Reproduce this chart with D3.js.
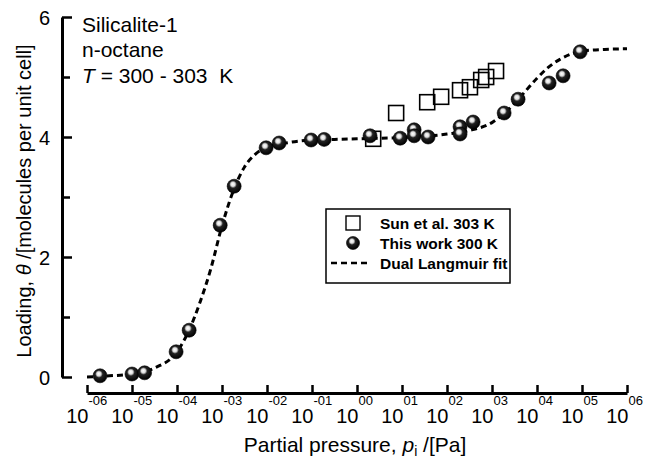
<!DOCTYPE html>
<html>
<head>
<meta charset="utf-8">
<script src="https://cdn.jsdelivr.net/npm/d3@7"></script>
<style>
  body { margin: 0; background: #fff; }
  svg { display: block; font-family: "Liberation Sans", Arial, Helvetica, sans-serif; }
</style>
</head>
<body>
<svg id="chart" width="647" height="459"></svg>
<script>
// Sun et al. 303 K (log10 of pressure in Pa, loading)
var sunLogP = [0.36, 0.87, 1.56, 1.87, 2.29, 2.51, 2.76, 2.87, 3.09];
var sunLoad = [3.97, 4.40, 4.58, 4.67, 4.78, 4.83, 4.95, 5.00, 5.10];

// This work 300 K
var thisLogP = [-5.71, -5.0, -4.72, -4.02, -3.73, -3.04, -2.73, -2.02, -1.73, -1.02, -0.73,
                0.29, 0.96, 1.27, 1.27, 1.58, 2.29, 2.29, 2.58, 3.27, 3.58, 4.27, 4.58, 4.96];
var thisLoad = [0.02, 0.05, 0.07, 0.42, 0.78, 2.53, 3.18, 3.82, 3.90, 3.95, 3.96,
                4.02, 3.98, 4.12, 4.02, 4.00, 4.17, 4.05, 4.25, 4.40, 4.63, 4.90, 5.02, 5.42];

// Dual Langmuir fit
var fitLogP = [-6, -5.5, -5, -4.5, -4, -3.75, -3.5, -3.25, -3, -2.75, -2.5, -2.25, -2, -1.5, -1,
               -0.5, 0, 0.5, 1, 1.5, 2, 2.5, 3, 3.25, 3.5, 3.75, 4, 4.25, 4.5, 4.75, 5, 5.5, 6];
var fitLoad = [0.0, 0.02, 0.05, 0.15, 0.42, 0.75, 1.22, 1.8, 2.52, 3.1, 3.5, 3.72, 3.83, 3.91, 3.95,
               3.96, 3.97, 3.98, 3.99, 4.01, 4.05, 4.11, 4.24, 4.38, 4.56, 4.77, 4.98, 5.16, 5.29, 5.38, 5.43, 5.46, 5.47];

var xExps = [-6, -5, -4, -3, -2, -1, 0, 1, 2, 3, 4, 5, 6];
var yMajor = [0, 2, 4, 6];
var yMinor = [1, 3, 5];

var svg = d3.select("#chart");

var x = d3.scaleLog().domain([1e-6, 1e6]).range([87, 627]);
var y = d3.scaleLinear().domain([0, 6]).range([377, 17]);

// gradient for the shaded balls
var grad = svg.append("defs").append("radialGradient")
  .attr("id", "ball").attr("cx", "45%").attr("cy", "40%").attr("r", "60%")
  .attr("fx", "40%").attr("fy", "35%");
grad.append("stop").attr("offset", "0%").attr("stop-color", "#fff");
grad.append("stop").attr("offset", "25%").attr("stop-color", "#ddd");
grad.append("stop").attr("offset", "45%").attr("stop-color", "#222");
grad.append("stop").attr("offset", "100%").attr("stop-color", "#000");

// y axis
var yAxis = svg.append("g").attr("transform", "translate(62,0)")
  .call(d3.axisLeft(y).tickValues(yMajor).tickSizeInner(-10).tickSizeOuter(0).tickPadding(12)
    .tickFormat(d3.format("d")));
svg.append("g").attr("transform", "translate(62,0)")
  .call(d3.axisLeft(y).tickValues(yMinor).tickSizeInner(-8).tickSizeOuter(0).tickFormat(""))
  .select(".domain").remove();
yAxis.selectAll("text").attr("font-size", 20).attr("fill", "#000").attr("dy", "0.36em");

// x axis
var xAxis = svg.append("g").attr("transform", "translate(0,393)")
  .call(d3.axisBottom(x).tickValues(xExps.map(function(e) { return Math.pow(10, e); }))
    .tickSizeInner(-8).tickSizeOuter(0).tickFormat(""));
xAxis.selectAll(".tick").each(function(d, i) {
  var e = xExps[i];
  var lab = (e < 0 ? "-" : "") + (Math.abs(e) < 10 ? "0" : "") + Math.abs(e);
  var g = d3.select(this);
  g.append("text").attr("x", 1).attr("y", 30).attr("text-anchor", "end")
    .attr("font-size", 20).attr("fill", "#000").text("10");
  g.append("text").attr("x", 1).attr("y", 12).attr("text-anchor", "start")
    .attr("font-size", 13).attr("fill", "#000").text(lab);
});

svg.selectAll(".domain").attr("stroke-width", 3).attr("stroke", "#000");
svg.selectAll(".tick line").attr("stroke-width", 2.5).attr("stroke", "#000");

// fit curve
var line = d3.line()
  .x(function(d, i) { return x(Math.pow(10, fitLogP[i])); })
  .y(function(d) { return y(d); })
  .curve(d3.curveMonotoneX);
svg.append("path").datum(fitLoad).attr("d", line)
  .attr("fill", "none").attr("stroke", "#000").attr("stroke-width", 3)
  .attr("stroke-dasharray", "6,4");

// Sun et al. squares
svg.append("g").selectAll("rect").data(sunLoad).enter().append("rect")
  .attr("x", function(d, i) { return x(Math.pow(10, sunLogP[i])) - 7.5; })
  .attr("y", function(d) { return y(d) - 7.5; })
  .attr("width", 15).attr("height", 15)
  .attr("fill", "none").attr("stroke", "#000").attr("stroke-width", 1.6);

// this work balls
svg.append("g").selectAll("circle").data(thisLoad).enter().append("circle")
  .attr("cx", function(d, i) { return x(Math.pow(10, thisLogP[i])); })
  .attr("cy", function(d) { return y(d); })
  .attr("r", 7).attr("fill", "url(#ball)").attr("stroke", "#000").attr("stroke-width", 0.6);

// annotation
var note = svg.append("g").attr("font-size", 21).attr("fill", "#000");
note.append("text").attr("x", 82).attr("y", 32).text("Silicalite-1");
note.append("text").attr("x", 82).attr("y", 57).text("n-octane");
var t3 = note.append("text").attr("x", 82).attr("y", 83);
t3.append("tspan").attr("font-style", "italic").text("T");
t3.append("tspan").text(" = 300 - 303  K").attr("xml:space", "preserve");

// legend
var leg = svg.append("g").attr("transform", "translate(326,209)");
leg.append("rect").attr("width", 184).attr("height", 74)
  .attr("fill", "#fff").attr("stroke", "#000").attr("stroke-width", 1.5);
leg.append("rect").attr("x", 20).attr("y", 7).attr("width", 14).attr("height", 14)
  .attr("fill", "none").attr("stroke", "#000").attr("stroke-width", 1.4);
leg.append("circle").attr("cx", 27).attr("cy", 34).attr("r", 6.5)
  .attr("fill", "url(#ball)").attr("stroke", "#000").attr("stroke-width", 0.6);
leg.append("line").attr("x1", 5).attr("x2", 45).attr("y1", 54).attr("y2", 54)
  .attr("stroke", "#000").attr("stroke-width", 2.5).attr("stroke-dasharray", "6,4");
var legText = ["Sun et al. 303 K", "This work 300 K", "Dual Langmuir fit"];
leg.selectAll("text.l").data(legText).enter().append("text")
  .attr("x", 54).attr("y", function(d, i) { return 20 + i * 20; })
  .attr("font-size", 15.5).attr("font-weight", "bold").attr("fill", "#000")
  .text(function(d) { return d; });

// axis titles
var yt = svg.append("text").attr("transform", "translate(31,201) rotate(-90)")
  .attr("text-anchor", "middle").attr("font-size", 20).attr("fill", "#000");
yt.append("tspan").text("Loading, ");
yt.append("tspan").attr("font-style", "italic").text("θ");
yt.append("tspan").text(" /[molecules per unit cell]");

var xt = svg.append("text").attr("x", 355).attr("y", 452)
  .attr("text-anchor", "middle").attr("font-size", 21).attr("fill", "#000");
xt.append("tspan").text("Partial pressure, ");
xt.append("tspan").attr("font-style", "italic").text("p");
xt.append("tspan").attr("font-size", 14).attr("dy", 4).text("i");
xt.append("tspan").attr("dy", -4).text(" /[Pa]");
</script>
</body>
</html>
